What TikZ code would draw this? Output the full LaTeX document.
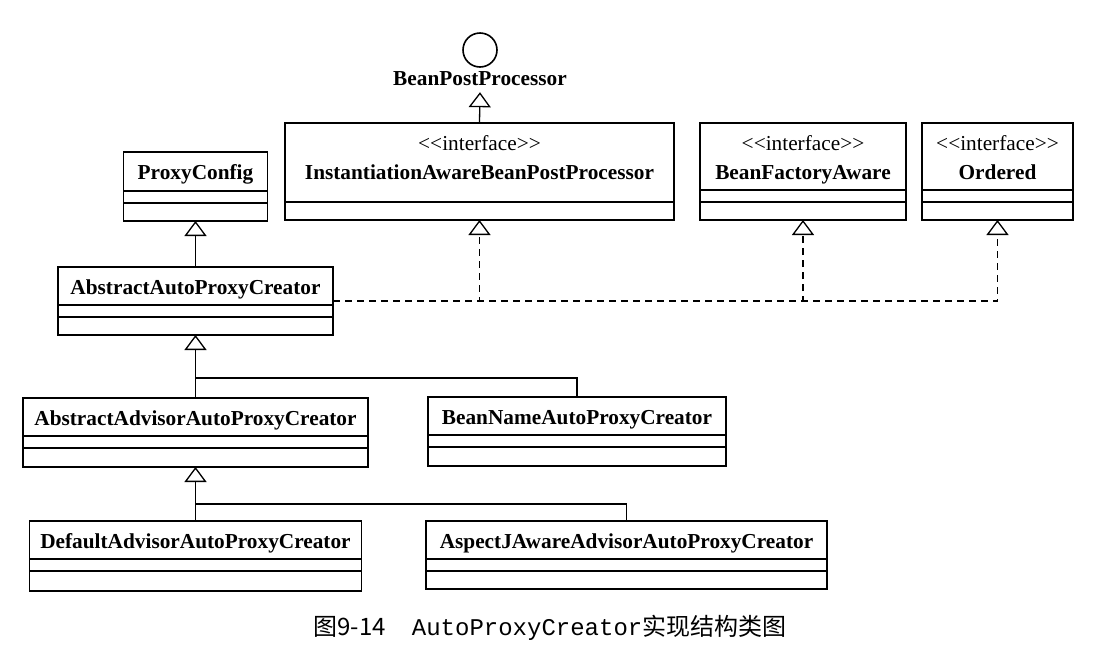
\documentclass[tikz,border=0pt]{standalone}
\usepackage{fontspec}
\setmainfont{Liberation Serif}
\setmonofont{Liberation Mono}
\newfontfamily\cjk{Noto Sans CJK SC}
\usepackage{tikz}
\usetikzlibrary{positioning,calc,arrows.meta}
\newcommand{\stereoLine}{{\mdseries <\kern0pt<interface>\kern0pt>}}
\tikzset{
  classHead/.style={
    rectangle,
    draw=black,
    line width=1.6pt,
    outer sep=0pt,
    inner sep=0pt,
    anchor=north,
    minimum height=38pt,
    font=\fontsize{21.3}{25}\selectfont\bfseries,
    text height=16pt,
    text depth=0pt
  },
  ifaceHead/.style={
    rectangle,
    draw=black,
    line width=1.6pt,
    outer sep=0pt,
    inner sep=0pt,
    anchor=north,
    minimum height=67pt,
    align=center,
    font=\fontsize{21.3}{29}\selectfont\bfseries,
    text height=46pt,
    text depth=1pt
  },
  memberBox/.style={
    rectangle,
    draw=black,
    line width=1.6pt,
    outer sep=0pt,
    inner sep=0pt,
    minimum height=30pt
  },
  memberSplit/.style={
    memberBox,
    path picture={
      \draw[line width=1.6pt] ([yshift=-12pt]path picture bounding box.north west)
        -- ([yshift=-12pt]path picture bounding box.north east);
    }
  },
  lollipop/.style={
    circle,
    draw=black,
    line width=1.6pt,
    minimum size=34pt,
    inner sep=0pt
  },
  inheritLine/.style={
    -{Triangle[open,length=15pt,width=22pt]},
    line width=1.3pt
  },
  realizeLine/.style={
    inheritLine,
    dash pattern=on 7pt off 5pt
  },
  branchLine/.style={
    line width=1.3pt
  }
}

\begin{document}
\begin{tikzpicture}[x=1pt,y=-1pt]
        \useasboundingbox (0,0) rectangle (1104,670);

        % interfaces
        \node[lollipop] (bpp) at (480,50) {};
        \node[font=\fontsize{21.3}{25}\selectfont\bfseries, text height=14pt, text depth=2pt, inner sep=5pt] (bppname) at (480,79) {BeanPostProcessor};
        \node[ifaceHead, minimum width=389pt, minimum height=79pt, text depth=13pt] (iabpp) at (479.5,123) {\stereoLine\\ InstantiationAwareBeanPostProcessor};
        \node[memberBox, minimum width=389pt, minimum height=18pt, below=0pt of iabpp] (iabppbody) {};
        \node[ifaceHead, minimum width=206pt] (bfa) at (803,123) {\stereoLine\\ BeanFactoryAware};
        \node[memberSplit, minimum width=206pt, below=0pt of bfa] (bfabody) {};
        \node[ifaceHead, minimum width=151pt] (ordered) at (997.5,123) {\stereoLine\\ Ordered};
        \node[memberSplit, minimum width=151pt, below=0pt of ordered] (orderedbody) {};

        % classes
        \node[classHead, minimum width=144pt, minimum height=39pt] (proxyconfig) at (195.5,152) {ProxyConfig};
        \node[memberSplit, minimum width=144pt, below=0pt of proxyconfig] (proxyconfigbody) {};
        \node[classHead, minimum width=275pt] (aapc) at (195.5,267) {AbstractAutoProxyCreator};
        \node[memberSplit, minimum width=275pt, below=0pt of aapc] (aapcbody) {};
        \node[classHead, minimum width=345pt] (aaapc) at (195.5,398) {AbstractAdvisorAutoProxyCreator};
        \node[memberSplit, minimum width=345pt, minimum height=31pt, below=0pt of aaapc] (aaapcbody) {};
        \node[classHead, minimum width=298pt] (bnapc) at (577,397) {BeanNameAutoProxyCreator};
        \node[memberSplit, minimum width=298pt, minimum height=31pt, below=0pt of bnapc] (bnapcbody) {};
        \node[classHead, minimum width=332pt] (daapc) at (195.5,521) {DefaultAdvisorAutoProxyCreator};
        \node[memberSplit, minimum width=332pt, minimum height=32pt, below=0pt of daapc] (daapcbody) {};
        \node[classHead, minimum width=401pt] (ajaapc) at (626.5,521) {AspectJAwareAdvisorAutoProxyCreator};
        \node[memberSplit, minimum width=401pt, below=0pt of ajaapc] (ajaapcbody) {};

        \coordinate (fork1) at (195.5,378);
        \coordinate (fork2) at (195.5,504);

        \draw[inheritLine] (iabpp.north) -- (bppname.south);
        \draw[inheritLine] (aapc.north) -- (proxyconfigbody.south);
        \draw[realizeLine] ([yshift=4pt]aapc.south east) -| (iabppbody.south);
        \draw[realizeLine] ([yshift=4pt]aapc.south east) -| (bfabody.south);
        \draw[realizeLine] ([yshift=4pt]aapc.south east) -| (orderedbody.south);
        \draw[inheritLine] (aaapc.north) -- (aapcbody.south);
        \draw[branchLine] (bnapc.north) |- (fork1);
        \draw[inheritLine] (daapc.north) -- (aaapcbody.south);
        \draw[branchLine] (ajaapc.north) |- (fork2);

        \node[font=\fontsize{24}{28}\selectfont] (caption) at (550,628) {{\cjk 图9-14}\hspace{26pt}\texttt{AutoProxyCreator}{\cjk 实现结构类图}};

    \end{tikzpicture}
\end{document}
